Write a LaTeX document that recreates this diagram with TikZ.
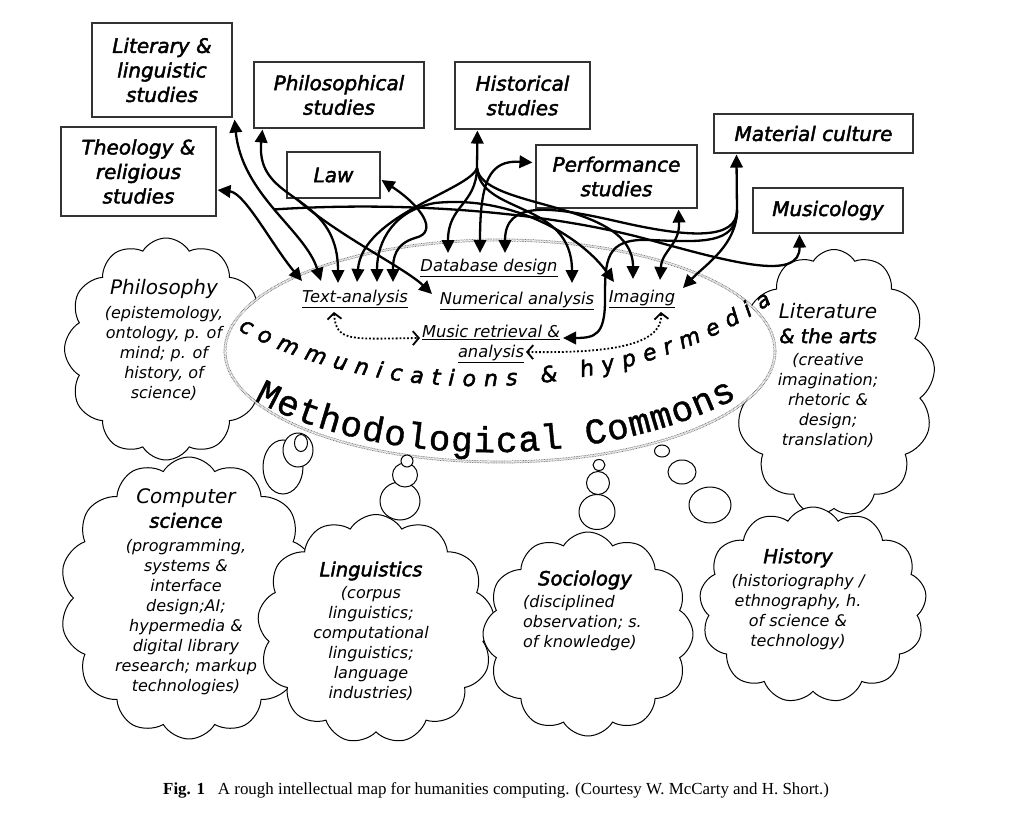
\documentclass[tikz,border=0pt]{standalone}
\usepackage{fontspec}
\setmainfont{DejaVu Sans}
\newfontfamily\boxfnt{DejaVu Sans}[FakeBold=2.2]
\newfontfamily\titbfnt{DejaVu Sans}[FakeBold=2.2]
\newfontfamily\monofnt{Liberation Mono}[FakeBold=1.2]
\newfontfamily\capserif{Liberation Serif}
\usetikzlibrary{shapes.symbols,shapes.geometric,arrows.meta,decorations.text,calc}
\newcommand\ttl[1]{{\fontsize{20}{24}\selectfont #1}}
\newcommand\ttlb[1]{{\titbfnt\itshape\fontsize{19.5}{24}\selectfont #1}}
\begin{document}
\begin{tikzpicture}[x=1pt,y=-1pt,
  box/.style={draw=black!80, line width=1.1pt, align=center, inner sep=0pt,
    font=\boxfnt\itshape\fontsize{20}{24.5}\selectfont},
  cloudy/.style={cloud, cloud ignores aspect, draw, fill=white, line width=1pt,
    cloud puffs=#1, cloud puff arc=118, inner sep=0pt},
  ctext/.style={align=center, inner sep=0pt, font=\itshape\fontsize{16}{20}\selectfont},
  meth/.style={align=center, inner sep=0pt, font=\itshape\fontsize{16.3}{19.5}\selectfont},
  arr/.style={line width=2.3pt, >={Triangle[length=13pt,width=12.5pt]}},
  dotarr/.style={line width=1.8pt, dotted, >={Straight Barb[length=6pt,width=14pt]}},
  bubble/.style={ellipse, draw, fill=white, line width=1pt, inner sep=0pt},
  ring/.style={ellipse, draw=black!60, fill=white, line width=0.7pt,
    dash pattern=on 0.8pt off 0.8pt, double=white, double distance=1.4pt, inner sep=0pt},
]
\useasboundingbox (0,0) rectangle (1010,819);

% clouds behind the commons
\node[cloudy=12, minimum width=203pt, minimum height=222pt] (philc) at (166,349) {};
\node[cloudy=13, minimum width=202pt, minimum height=267pt] (litc) at (834,383) {};

% methodological commons
\node[ring, minimum width=550pt, minimum height=222pt] (commons) at (500,351) {};

% lower clouds
\node[cloudy=14, minimum width=258pt, minimum height=282pt] (csc) at (189,598) {};
\node[cloudy=13, minimum width=237pt, minimum height=229pt] (linc) at (376,629) {};
\node[cloudy=12, minimum width=210pt, minimum height=204pt] (socc) at (588,634) {};
\node[cloudy=13, minimum width=227pt, minimum height=196pt] (hisc) at (813,605) {};

% thought bubbles
\node[bubble, minimum width=40pt, minimum height=54pt] (cb1) at (283,467) {};
\node[bubble, minimum width=30pt, minimum height=34pt] (cb2) at (298,450) {};
\node[bubble, minimum width=13pt, minimum height=17pt] (cb3) at (301,443) {};
\node[bubble, minimum width=40pt, minimum height=38pt] (lb1) at (400,501) {};
\node[bubble, minimum width=25pt, minimum height=24pt] (lb2) at (405,475) {};
\node[bubble, minimum width=12pt, minimum height=12pt] (lb3) at (407,461) {};
\node[bubble, minimum width=36pt, minimum height=35pt] (sb1) at (597,512) {};
\node[bubble, minimum width=23pt, minimum height=23pt] (sb2) at (598,483) {};
\node[bubble, minimum width=12pt, minimum height=11pt] (sb3) at (599,465) {};
\node[bubble, minimum width=42pt, minimum height=36pt] (rb1) at (710,505) {};
\node[bubble, minimum width=28pt, minimum height=24pt] (rb2) at (682,472) {};
\node[bubble, minimum width=15pt, minimum height=12pt] (rb3) at (662,451) {};

% cloud texts
\node[ctext] (philt) at (164,340) {\ttl{Philosophy}\\[4pt](epistemology,\\ontology, p. of\\mind; p. of\\history, of\\science)};
\node[ctext] (litt) at (828,375) {\ttl{Literature}\\[5pt]\ttlb{\& the arts}\\[2pt](creative\\imagination;\\rhetoric \&\\design;\\translation)};
\node[ctext] (cst) at (186,592) {\ttl{Computer}\\[4pt]\ttlb{science}\\[4pt](programming,\\systems \&\\interface\\design;AI;\\hypermedia \&\\digital library\\research; markup\\technologies)};
\node[ctext] (lint) at (371,631) {\ttlb{Linguistics}\\[2pt](corpus\\linguistics;\\computational\\linguistics;\\language\\industries)};
\node[ctext] (soct) at (585,580) {\ttlb{Sociology}};
\node[ctext, align=left, anchor=west] (socs) at (523,623) {(disciplined\\observation; s.\\of knowledge)};
\node[ctext] (hist) at (798,599) {\ttlb{History}\\[3pt](historiography /\\ethnography, h.\\of science \&\\technology)};

% texts along the commons
\path[decorate, decoration={text along path, text align={fit to path},
  text={|\titbfnt\itshape\fontsize{22}{22}\selectfont|communications {\&} hypermedia}}]
  (238,330) .. controls (380,408) and (610,410) .. (772,303);
\path[decorate, decoration={text along path, text align={fit to path},
  text={|\monofnt\fontsize{36}{36}\selectfont|Methodological Commons}}]
  (254,400) .. controls (380,470) and (600,470) .. (737,398);

% methods
\node[meth] (db) at (489,268) {\underline{Database design}};
\node[meth] (ta) at (355,299) {\underline{Text-analysis}};
\node[meth] (na) at (517,301) {\underline{Numerical analysis}};
\node[meth] (im) at (642,299) {\underline{Imaging}};
\node[meth] (mr) at (491,344) {\underline{Music retrieval \&}\\\underline{analysis}};

% boxes
\node[box, minimum width=140pt, minimum height=94pt] (lit) at (162,70) {Literary \&\\linguistic\\studies};
\node[box, minimum width=170pt, minimum height=66pt] (phil) at (339,95) {Philosophical\\studies};
\node[box, minimum width=135pt, minimum height=67pt] (hist) at (522.5,95.5) {Historical\\studies};
\node[box, minimum width=155pt, minimum height=89pt] (theo) at (138.5,171.5) {Theology \&\\religious\\studies};
\node[box, minimum width=93pt, minimum height=46pt] (law) at (333.5,175) {Law};
\node[box, minimum width=161pt, minimum height=63pt] (perf) at (616.5,176.5) {Performance\\studies};
\node[box, minimum width=199pt, minimum height=39pt] (mat) at (813.5,133.5) {Material culture};
\node[box, minimum width=150pt, minimum height=45pt] (mus) at (828,210.5) {Musicology};

% connector end points
\coordinate (theoTip) at ($(theo.east)+(1,18.5)$);
\coordinate (litTip) at ($(lit.south east)+(2,2)$);
\coordinate (philTip) at ($(phil.south west)+(9,1)$);
\coordinate (lawTip) at ($(law.east)+(1,5)$);
\coordinate (histTip) at ($(hist.south west)+(23,1)$);
\coordinate (perfTip) at ($(perf.west)+(-3,-14)$);
\coordinate (perfBTip) at ($(perf.south east)+(-19,1)$);
\coordinate (matTip) at ($(mat.south west)+(23,1)$);
\coordinate (musTip) at ($(mus.south west)+(47,1)$);
\coordinate (t1) at (302,281);
\coordinate (t2) at (321,281);
\coordinate (t3) at (338,283);
\coordinate (t4) at (357,282);
\coordinate (t5) at (377,282);
\coordinate (t6) at (393,282);
\coordinate (n1) at (432,294);
\coordinate (n2) at (572,283);
\coordinate (d1) at (448,253);
\coordinate (d2) at (480,253);
\coordinate (d3) at (505,253);
\coordinate (i1) at (614,282);
\coordinate (i2) at (633,279);
\coordinate (i3) at (660,280);
\coordinate (i4) at (683,288);
\coordinate (m1) at (563,338);
\coordinate (pb) at (297.5,199.6);
\coordinate (lb) at (274.5,209.4);
\coordinate (hb) at (477,168);
\coordinate (mb) at (737,210);
\coordinate (tadot) at (334,312);
\coordinate (mrL) at (420,338);
\coordinate (imdot) at (661,312);
\coordinate (mrR) at (526,352);

% connectors
\draw[arr,<->] (theoTip) .. controls (245,193) and (272,245) .. (t1);
\draw[arr,<->] (litTip) .. controls (242,195) and (305,230) .. (t2);
\draw[arr,<->] (philTip) .. controls (255,205) and (338,190) .. (t3);
\draw[arr,->] (pb) .. controls (337,235) and (405,268) .. (n1);
\draw[arr,->] (lb) .. controls (420,200) and (560,215) .. (650,240) .. controls (740,265) and (800,280) .. (musTip);
\draw[arr,<-] (histTip) -- (hb);
\draw[arr,->] (hb) .. controls (470,190) and (362,215) .. (t4);
\draw[arr,->] (hb) .. controls (476,205) and (448,205) .. (d1);
\draw[arr,->] (hb) .. controls (480,215) and (572,200) .. (n2);
\draw[arr,->] (hb) .. controls (482,210) and (633,200) .. (i2);
\draw[arr,<->] (lawTip) .. controls (420,205) and (440,232) .. (415,238) .. controls (395,244) and (393,258) .. (t6);
\draw[arr,<->] (t5) .. controls (377,240) and (395,210) .. (435,203) .. controls (510,195) and (580,235) .. (i1);
\draw[arr,<->] (perfTip) .. controls (490,160) and (480,180) .. (d2);
\draw[arr,<->] (perfBTip) .. controls (680,245) and (662,250) .. (i3);
\draw[arr,<-] (matTip) -- (mb);
\draw[arr,->] (mb) .. controls (737,245) and (705,265) .. (i4);
\draw[arr,->] (mb) .. controls (737,240) and (690,238) .. (620,222) .. controls (550,206) and (505,200) .. (d3);
\draw[arr,->] (mb) .. controls (737,245) and (700,242) .. (650,240) .. controls (605,238) and (605,260) .. (605,300) .. controls (605,335) and (595,338) .. (m1);
\draw[dotarr,<->] (tadot) .. controls (336,342) and (350,339) .. (mrL);
\draw[dotarr,<->] (imdot) .. controls (663,348) and (600,353) .. (mrR);

% caption
\node[anchor=west, inner sep=0pt, font=\capserif\fontsize{16.9}{20}\selectfont] (cap) at (163,790)
  {\textbf{Fig. 1}\hspace{13pt}A rough intellectual map for humanities computing. (Courtesy W. McCarty and H. Short.)};
\end{tikzpicture}
\end{document}
